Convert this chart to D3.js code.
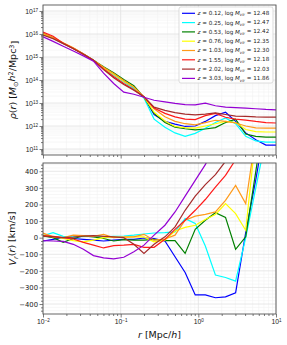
<!DOCTYPE html>
<html>
<head>
<script src="https://cdnjs.cloudflare.com/ajax/libs/d3/7.8.5/d3.min.js"></script>
<style>
  body { margin: 0; background: #fff; }
  svg { font-family: "DejaVu Sans", sans-serif; }
</style>
</head>
<body>
<svg id="chart" width="287" height="345"></svg>
<script>
// radius bins, log10(r [Mpc/h])
const logR = [-2.00, -1.87, -1.74, -1.61, -1.48, -1.35, -1.22, -1.09, -0.96, -0.83, -0.70, -0.57,
              -0.43, -0.30, -0.17, -0.04, 0.09, 0.22, 0.35, 0.48, 0.61, 0.74, 0.87, 1.00]

const redshifts = ["0.12", "0.25", "0.53", "0.76", "1.03", "1.55", "2.02", "3.03"]
const logMvir = ["12.48", "12.47", "12.42", "12.35", "12.30", "12.18", "12.03", "11.86"]

// log10 rho(r)
const rhoZ012 = [15.98, 15.82, 15.60, 15.38, 15.13, 14.86, 14.52, 14.25, 13.95, 13.65, 13.25, 12.50, 12.20, 12.08, 11.98, 12.00, 12.20, 12.45, 12.60, 12.20, 11.70, 11.40, 11.17, 11.17]
const rhoZ025 = [16.00, 15.84, 15.60, 15.38, 15.12, 14.86, 14.50, 14.22, 13.92, 13.62, 13.22, 12.30, 11.95, 11.70, 11.55, 11.68, 11.90, 12.15, 12.35, 12.10, 11.55, 11.35, 11.30, 11.30]
const rhoZ053 = [16.02, 15.83, 15.60, 15.38, 15.13, 14.86, 14.58, 14.32, 14.02, 13.75, 13.25, 12.55, 12.15, 11.95, 11.88, 11.83, 11.87, 11.93, 12.15, 12.30, 11.65, 11.55, 11.52, 11.52]
const rhoZ076 = [16.00, 15.83, 15.60, 15.38, 15.12, 14.86, 14.52, 14.25, 13.95, 13.68, 13.26, 12.60, 12.22, 11.98, 11.93, 11.91, 12.00, 12.10, 12.20, 12.15, 11.85, 11.76, 11.74, 11.74]
const rhoZ103 = [16.03, 15.85, 15.62, 15.40, 15.14, 14.86, 14.55, 14.28, 13.98, 13.70, 13.27, 12.75, 12.40, 12.20, 12.10, 12.05, 12.15, 12.25, 12.20, 12.13, 12.00, 11.92, 11.91, 11.91]
const rhoZ155 = [16.08, 15.90, 15.60, 15.37, 15.12, 14.86, 14.48, 14.15, 13.85, 13.58, 13.27, 12.78, 12.55, 12.40, 12.30, 12.28, 12.45, 12.55, 12.38, 12.30, 12.26, 12.20, 12.15, 12.13]
const rhoZ202 = [15.95, 15.80, 15.58, 15.36, 15.12, 14.86, 14.45, 14.10, 13.80, 13.55, 13.27, 12.82, 12.68, 12.58, 12.52, 12.48, 12.52, 12.57, 12.50, 12.43, 12.42, 12.40, 12.39, 12.39]
const rhoZ303 = [15.88, 15.68, 15.47, 15.26, 15.05, 14.82, 14.30, 13.85, 13.47, 13.38, 13.25, 13.12, 13.05, 12.98, 12.93, 12.92, 12.99, 12.88, 12.82, 12.80, 12.78, 12.75, 12.72, 12.70]

// V_r(r) [km/s]
const vrZ012 = [-20, -10, 0, -5, -10, -15, -20, -15, -10, -10, -2, -5, -20, -115, -210, -345, -345, -362, -357, -333, 30, 350, 700, 1000]
const vrZ025 = [12, 30, 8, 5, 8, 10, 5, 8, 10, 15, 22, 28, 30, 35, 115, 85, -50, -225, -240, -262, 0, 300, 600, 800]
const vrZ053 = [10, 0, -28, -5, 10, 5, -5, -20, -12, -15, -15, -10, -18, -18, -95, 50, 105, 150, 122, -70, 5, 400, 800, 900]
const vrZ076 = [15, 5, -5, -18, -25, -15, 0, 5, 0, 5, 5, -25, -15, 40, 62, 75, 110, 140, 205, 145, 45, 620, 900, 1000]
const vrZ103 = [28, 5, 0, 15, 12, 8, 20, 0, 5, 5, 20, -15, -8, 15, 105, 130, 140, 155, 225, 315, 205, 620, 900, 1100]
const vrZ155 = [13, 8, 0, -8, -28, -45, -62, -48, -45, -40, -58, -58, -10, 50, 105, 165, 230, 305, 375, 470, 560, 650, 750, 850]
const vrZ202 = [10, 5, 0, 3, 10, 12, 8, 5, 0, -40, -95, -40, 5, 65, 165, 250, 320, 380, 460, 540, 620, 700, 780, 860]
const vrZ303 = [-18, -20, -22, -40, -70, -108, -122, -128, -118, -85, -45, 15, 75, 155, 250, 345, 440, 560, 650, 740, 820, 900, 980, 1050]

const rhoSeries = [rhoZ012, rhoZ025, rhoZ053, rhoZ076, rhoZ103, rhoZ155, rhoZ202, rhoZ303]
const vrSeries = [vrZ012, vrZ025, vrZ053, vrZ076, vrZ103, vrZ155, vrZ202, vrZ303]
const colors = ["#0000ff", "#00ffff", "#008000", "#ffff00", "#ff9a1a", "#ff1a1a", "#a52a2a", "#9400d3"]

const svg = d3.select("#chart")
const left = 43, right = 276
const topP = { y0: 5, y1: 155 }
const botP = { y0: 163, y1: 314 }

const x = d3.scaleLog().domain([1e-2, 1e1]).range([left, right])
const yRho = d3.scaleLog().domain([Math.pow(10, 10.74), Math.pow(10, 17.26)]).range([topP.y1, topP.y0])
const yVr = d3.scaleLinear().domain([-460, 450]).range([botP.y1, botP.y0])

const xMajor = [1e-2, 1e-1, 1e0, 1e1]
const xMinor = []
for (let e = -2; e < 1; e++) for (let m = 2; m < 10; m++) xMinor.push(m * Math.pow(10, e))
const rhoMajor = d3.range(11, 18).map(e => Math.pow(10, e))
const rhoMinor = []
for (let e = 10; e < 18; e++) for (let m = 2; m < 10; m++) {
  const v = m * Math.pow(10, e)
  if (v > yRho.domain()[0] && v < yRho.domain()[1]) rhoMinor.push(v)
}
const vrMajor = d3.range(-400, 401, 100)
const vrMinor = d3.range(-440, 441, 20).filter(v => v % 100 !== 0)

function drawPanel(p, y, yMajor, yMinor, id) {
  const g = svg.append("g")
  // grid
  g.selectAll(".gminx").data(xMinor).join("line")
    .attr("x1", d => x(d)).attr("x2", d => x(d)).attr("y1", p.y0).attr("y2", p.y1)
    .attr("stroke", "#f1f1f1").attr("stroke-width", 0.6)
  g.selectAll(".gminy").data(yMinor).join("line")
    .attr("x1", left).attr("x2", right).attr("y1", d => y(d)).attr("y2", d => y(d))
    .attr("stroke", "#f1f1f1").attr("stroke-width", 0.6)
  g.selectAll(".gmajx").data(xMajor).join("line")
    .attr("x1", d => x(d)).attr("x2", d => x(d)).attr("y1", p.y0).attr("y2", p.y1)
    .attr("stroke", "#e2e2e2").attr("stroke-width", 0.8)
  g.selectAll(".gmajy").data(yMajor).join("line")
    .attr("x1", left).attr("x2", right).attr("y1", d => y(d)).attr("y2", d => y(d))
    .attr("stroke", "#e2e2e2").attr("stroke-width", 0.8)

  svg.append("clipPath").attr("id", id).append("rect")
    .attr("x", left).attr("y", p.y0).attr("width", right - left).attr("height", p.y1 - p.y0)

  // ticks
  const tickStyle = sel => sel.call(s => s.select(".domain").remove())
    .call(s => s.selectAll("line").attr("stroke", "#444").attr("stroke-width", 0.7))
  svg.append("g").attr("transform", `translate(0,${p.y1})`)
    .call(d3.axisBottom(x).tickValues(xMajor).tickSize(3.5).tickFormat(""))
    .call(tickStyle)
  svg.append("g").attr("transform", `translate(0,${p.y1})`)
    .call(d3.axisBottom(x).tickValues(xMinor).tickSize(2).tickFormat(""))
    .call(tickStyle)
  svg.append("g").attr("transform", `translate(${left},0)`)
    .call(d3.axisLeft(y).tickValues(yMinor).tickSize(2).tickFormat(""))
    .call(tickStyle)
  return g
}

drawPanel(topP, yRho, rhoMajor, rhoMinor, "clipTop")
drawPanel(botP, yVr, vrMajor, vrMinor, "clipBot")

// y major ticks + labels
const yAxTop = svg.append("g").attr("transform", `translate(${left},0)`)
  .call(d3.axisLeft(yRho).tickValues(rhoMajor).tickSize(3.5).tickFormat(""))
yAxTop.select(".domain").remove()
yAxTop.selectAll("line").attr("stroke", "#444").attr("stroke-width", 0.7)
yAxTop.selectAll(".tick").append("text")
  .attr("x", -5).attr("dy", "0.35em").attr("text-anchor", "end")
  .attr("fill", "#222").attr("font-size", 6.8)
  .each(function(d) {
    const t = d3.select(this)
    t.append("tspan").text("10")
    t.append("tspan").attr("dy", "-0.45em").attr("font-size", 4.6).text(Math.round(Math.log10(d)))
  })

const yAxBot = svg.append("g").attr("transform", `translate(${left},0)`)
  .call(d3.axisLeft(yVr).tickValues(vrMajor).tickSize(3.5).tickFormat(d => d < 0 ? "\u2212" + Math.abs(d) : d))
yAxBot.select(".domain").remove()
yAxBot.selectAll("line").attr("stroke", "#444").attr("stroke-width", 0.7)
yAxBot.selectAll("text").attr("font-size", 6.8).attr("fill", "#222").attr("font-family", "DejaVu Sans").attr("x", -5)

// x labels on bottom panel
const xLab = svg.append("g").attr("transform", `translate(0,${botP.y1})`)
  .call(d3.axisBottom(x).tickValues(xMajor).tickSize(0).tickFormat(""))
xLab.select(".domain").remove()
xLab.selectAll(".tick").append("text")
  .attr("y", 10).attr("text-anchor", "middle").attr("fill", "#222").attr("font-size", 6.8)
  .each(function(d) {
    const e = Math.round(Math.log10(d))
    const t = d3.select(this)
    t.append("tspan").text("10")
    t.append("tspan").attr("dy", "-0.45em").attr("font-size", 4.6).text(e < 0 ? "\u2212" + Math.abs(e) : e)
  })

// lines
const rhoLine = d3.line().x((d, i) => x(Math.pow(10, logR[i]))).y(d => yRho(Math.pow(10, d)))
const vrLine = d3.line().x((d, i) => x(Math.pow(10, logR[i]))).y(d => yVr(d))

svg.append("g").attr("clip-path", "url(#clipTop)")
  .selectAll("path").data(rhoSeries).join("path")
  .attr("d", rhoLine).attr("fill", "none")
  .attr("stroke", (d, i) => colors[i]).attr("stroke-width", 1.2)

svg.append("g").attr("clip-path", "url(#clipBot)")
  .selectAll("path").data(vrSeries).join("path")
  .attr("d", vrLine).attr("fill", "none")
  .attr("stroke", (d, i) => colors[i]).attr("stroke-width", 1.2)

// frames
;[topP, botP].forEach(p => {
  svg.append("rect").attr("x", left).attr("y", p.y0)
    .attr("width", right - left).attr("height", p.y1 - p.y0)
    .attr("fill", "none").attr("stroke", "#555").attr("stroke-width", 0.9)
})

// legend
const leg = svg.append("g")
leg.append("rect").attr("x", 179).attr("y", 7).attr("width", 94).attr("height", 76)
  .attr("rx", 2).attr("fill", "#fff").attr("fill-opacity", 0.85)
  .attr("stroke", "#d0d0d0").attr("stroke-width", 0.7)
redshifts.forEach((z, i) => {
  const yy = 13.3 + i * 9.3
  leg.append("line").attr("x1", 182).attr("x2", 195).attr("y1", yy).attr("y2", yy)
    .attr("stroke", colors[i]).attr("stroke-width", 1.2)
  const t = leg.append("text").attr("x", 197.5).attr("y", yy).attr("dy", "0.35em")
    .attr("font-size", 5.6).attr("fill", "#222")
  t.append("tspan").attr("font-style", "italic").text("z")
  t.append("tspan").text(" = " + z + ", log ")
  t.append("tspan").attr("font-style", "italic").text("M")
  t.append("tspan").attr("font-style", "italic").attr("font-size", 4).attr("dy", "0.3em").text("vir")
  t.append("tspan").attr("dy", "-0.3em").text(" = " + logMvir[i])
})

// axis titles
const tTop = svg.append("text").attr("transform", `translate(16,${(topP.y0 + topP.y1) / 2}) rotate(-90)`)
  .attr("text-anchor", "middle").attr("font-size", 9.5).attr("fill", "#111")
tTop.append("tspan").attr("font-style", "italic").text("\u03c1")
tTop.append("tspan").text("(")
tTop.append("tspan").attr("font-style", "italic").text("r")
tTop.append("tspan").text(") [")
tTop.append("tspan").attr("font-style", "italic").text("M")
tTop.append("tspan").attr("font-size", 6.5).attr("dy", "0.3em").text("\u2299")
tTop.append("tspan").attr("font-style", "italic").attr("dy", "-0.3em").text("h")
tTop.append("tspan").attr("font-size", 6.5).attr("dy", "-0.4em").text("2")
tTop.append("tspan").attr("dy", "0.4em").text("/Mpc")
tTop.append("tspan").attr("font-size", 6.5).attr("dy", "-0.4em").text("3")
tTop.append("tspan").attr("dy", "0.4em").text("]")

const tBot = svg.append("text").attr("transform", `translate(16,${(botP.y0 + botP.y1) / 2}) rotate(-90)`)
  .attr("text-anchor", "middle").attr("font-size", 9.5).attr("fill", "#111")
tBot.append("tspan").attr("font-style", "italic").text("V")
tBot.append("tspan").attr("font-style", "italic").attr("font-size", 6.5).attr("dy", "0.3em").text("r")
tBot.append("tspan").attr("dy", "-0.3em").text("(")
tBot.append("tspan").attr("font-style", "italic").text("r")
tBot.append("tspan").text(") [km/s]")

const tX = svg.append("text").attr("x", (left + right) / 2).attr("y", 338)
  .attr("text-anchor", "middle").attr("font-size", 9.5).attr("fill", "#111")
tX.append("tspan").attr("font-style", "italic").text("r")
tX.append("tspan").text(" [Mpc/")
tX.append("tspan").attr("font-style", "italic").text("h")
tX.append("tspan").text("]")
</script>
</body>
</html>
